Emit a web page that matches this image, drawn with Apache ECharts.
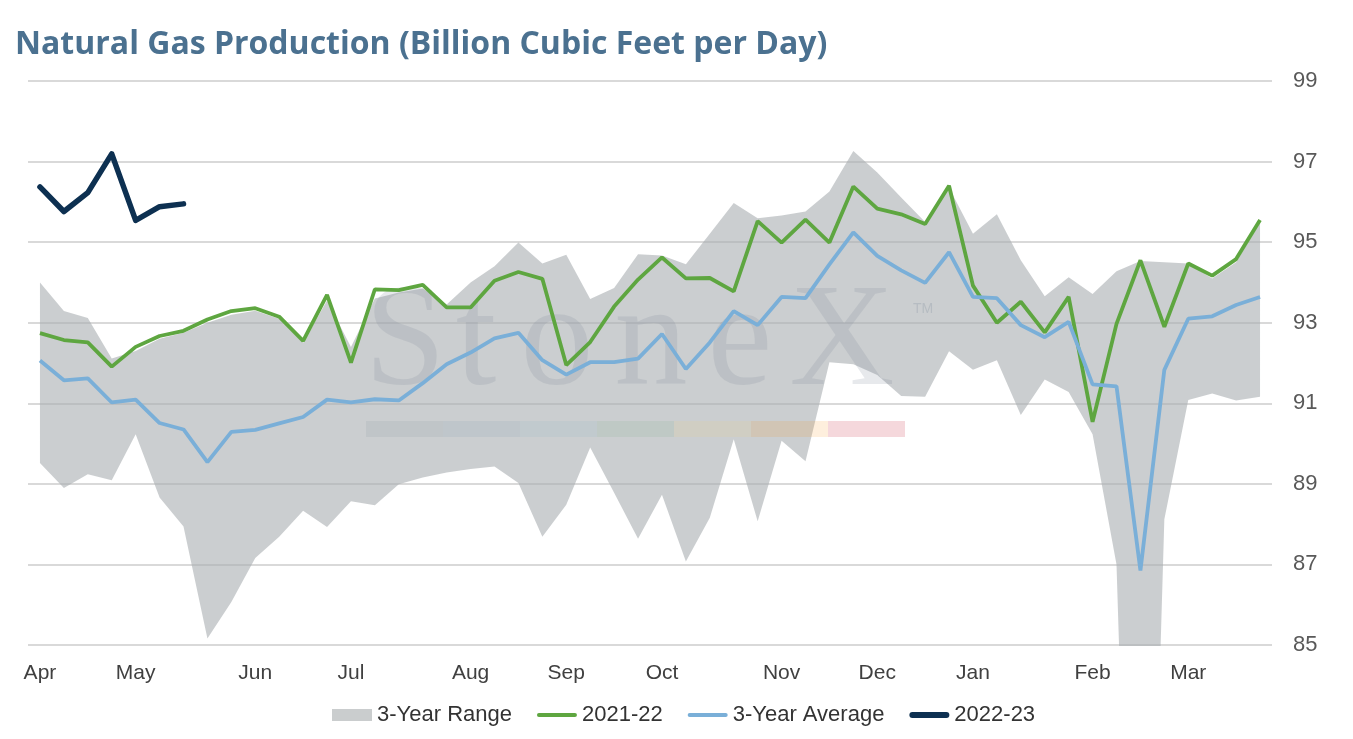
<!DOCTYPE html>
<html>
<head>
<meta charset="utf-8">
<title>Natural Gas Production</title>
<script src="https://cdn.jsdelivr.net/npm/echarts/dist/echarts.min.js"></script>
<style>
  html, body { margin: 0; padding: 0; background: #fff; }
  #chart { width: 1353px; height: 739px; }
</style>
</head>
<body>
<div id="chart"></div>
<script>
// weekly points, Apr -> Mar (52 weeks)
var weeks = ['Apr','','','','May','','','','','Jun','','','','Jul','','','','','Aug','','','','Sep','','','',
             'Oct','','','','','Nov','','','','Dec','','','','Jan','','','','','Feb','','','','Mar','','',''];

var rangeLow = [89.52, 88.90, 89.24, 89.09, 90.23, 88.66, 87.94, 85.16, 86.07, 87.16, 87.69, 88.33, 87.93,
                88.57, 88.47, 88.99, 89.16, 89.28, 89.37, 89.43, 89.02, 87.69, 88.48, 89.90, 88.78, 87.64,
                88.73, 87.07, 88.16, 90.11, 88.07, 90.07, 89.56, 92.02, 91.97, 91.70, 91.18, 91.16, 92.29,
                91.83, 92.07, 90.71, 91.59, 91.28, 90.23, 87.00, 68.00, 88.12, 91.08, 91.24, 91.07, 91.16];

var rangeHigh = [94.00, 93.29, 93.12, 92.11, 92.30, 92.60, 92.75, 93.00, 93.20, 93.30, 93.10, 92.50, 93.55,
                 92.40, 93.60, 93.75, 93.85, 93.45, 94.00, 94.40, 94.99, 94.47, 94.69, 93.59, 93.86, 94.70,
                 94.67, 94.45, 95.21, 95.97, 95.59, 95.66, 95.76, 96.26, 97.26, 96.73, 96.11, 95.50, 96.35,
                 95.21, 95.69, 94.55, 93.66, 94.13, 93.71, 94.28, 94.53, 94.50, 94.47, 94.10, 94.50, 95.48];

var avg3y = [92.06, 91.57, 91.62, 91.02, 91.09, 90.51, 90.35, 89.54, 90.29, 90.34, 90.50, 90.66, 91.09,
             91.02, 91.10, 91.07, 91.50, 91.97, 92.26, 92.61, 92.75, 92.07, 91.71, 92.02, 92.02, 92.11,
             92.72, 91.85, 92.51, 93.29, 92.94, 93.64, 93.61, 94.45, 95.24, 94.66, 94.30, 93.99, 94.75,
             93.64, 93.61, 92.94, 92.64, 93.02, 91.47, 91.42, 86.85, 91.83, 93.10, 93.16, 93.44, 93.64];

var prod2122 = [92.74, 92.57, 92.51, 91.91, 92.40, 92.67, 92.80, 93.08, 93.29, 93.36, 93.15, 92.55, 93.69,
                92.01, 93.83, 93.81, 93.94, 93.38, 93.38, 94.04, 94.26, 94.09, 91.95, 92.52, 93.40, 94.07,
                94.62, 94.10, 94.11, 93.78, 95.52, 94.99, 95.56, 94.99, 96.38, 95.83, 95.69, 95.45, 96.40,
                93.92, 93.00, 93.52, 92.76, 93.64, 90.54, 92.97, 94.55, 92.90, 94.47, 94.17, 94.58, 95.55];

var prod2223 = [96.37, 95.76, 96.23, 97.19, 95.54, 95.88, 95.95];

// watermark letters and colour strip
var markLetters = ['S', 't', 'o', 'n', 'e', 'X'];
var markCenters = [405, 476, 557, 651, 740, 842];
var stripColors = ['rgba(100,120,135,0.1)', 'rgba(90,130,170,0.1)', 'rgba(120,170,200,0.12)',
                   'rgba(90,160,110,0.1)', 'rgba(240,210,120,0.15)', 'rgba(245,150,30,0.15)',
                   'rgba(200,40,60,0.18)'];

var rangeSpan = rangeHigh.map(function (v, i) { return +(v - rangeLow[i]).toFixed(2); });

var graphics = markLetters.map(function (ch, i) {
  return {
    type: 'text', z: 1.5, silent: true,
    style: {
      text: ch, x: markCenters[i], y: 346,
      font: '146px "Liberation Serif", "DejaVu Serif", serif',
      fill: 'rgba(120,135,150,0.18)', textAlign: 'center', textVerticalAlign: 'middle'
    }
  };
});
graphics.push({
  type: 'text', z: 1.5, silent: true,
  style: { text: 'TM', x: 913, y: 302, font: '14px "Liberation Sans", sans-serif', fill: 'rgba(120,135,150,0.25)' }
});
stripColors.forEach(function (c, i) {
  graphics.push({
    type: 'rect', z: 1.5, silent: true,
    shape: { x: 366 + i * 77, y: 421, width: 77, height: 16 },
    style: { fill: c }
  });
});

var chart = echarts.init(document.getElementById('chart'));
chart.setOption({
  animation: false,
  backgroundColor: '#fff',
  title: {
    text: 'Natural Gas Production (Billion Cubic Feet per Day)',
    left: 15, top: 29, padding: 0,
    textStyle: { color: '#4b7190', fontFamily: 'Open Sans', fontWeight: 'bold', fontSize: 32 }
  },
  legend: {
    left: 332, top: 704, padding: 0,
    itemWidth: 40, itemHeight: 12, itemGap: 25,
    itemStyle: { borderWidth: 0 },
    textStyle: { color: '#333', fontFamily: 'Liberation Sans', fontSize: 22 },
    data: [
      { name: '3-Year Range', icon: 'rect' },
      { name: '2021-22', icon: 'path://M2,0 L38,0 A2,2 0 0 1 38,4 L2,4 A2,2 0 0 1 2,0 Z' },
      { name: '3-Year Average', icon: 'path://M2,0 L38,0 A2,2 0 0 1 38,4 L2,4 A2,2 0 0 1 2,0 Z' },
      { name: '2022-23', icon: 'path://M3,0 L37,0 A3,3 0 0 1 37,6 L3,6 A3,3 0 0 1 3,0 Z' }
    ]
  },
  grid: { left: 28, right: 81, top: 81, bottom: 94, containLabel: false, outerBoundsMode: 'none' },
  xAxis: {
    type: 'category',
    data: weeks,
    boundaryGap: true,
    axisLine: { show: false },
    axisTick: { show: false },
    axisLabel: { interval: 0, margin: 18, color: '#404040', fontFamily: 'Liberation Sans', fontSize: 21 }
  },
  yAxis: {
    type: 'value',
    position: 'right',
    min: 85, max: 99, interval: 2,
    axisLine: { show: false },
    axisTick: { show: false },
    axisLabel: { margin: 21, color: '#595959', fontFamily: 'Liberation Sans', fontSize: 22 },
    splitLine: { lineStyle: { color: '#d9d9d9', width: 2 } }
  },
  graphic: graphics,
  series: [
    {
      name: 'rangeBase', type: 'line', stack: 'range', data: rangeLow,
      symbol: 'none', silent: true, z: 1,
      lineStyle: { opacity: 0 }
    },
    {
      name: '3-Year Range', type: 'line', stack: 'range', data: rangeSpan,
      symbol: 'none', silent: true, z: 1,
      color: '#cacdce',
      lineStyle: { opacity: 0 },
      areaStyle: { color: '#a9aeb0', opacity: 0.6 }
    },
    {
      name: '2021-22', type: 'line', data: prod2122, symbol: 'none', z: 3,
      color: '#5ea640', lineStyle: { width: 3.8, color: '#5ea640' }
    },
    {
      name: '3-Year Average', type: 'line', data: avg3y, symbol: 'none', z: 3,
      color: '#7aafd8', lineStyle: { width: 3.8, color: '#7aafd8' }
    },
    {
      name: '2022-23', type: 'line', data: prod2223, symbol: 'none', z: 4,
      color: '#0d3051', lineStyle: { width: 5.5, color: '#0d3051', cap: 'round', join: 'round' }
    }
  ]
});
</script>
</body>
</html>
